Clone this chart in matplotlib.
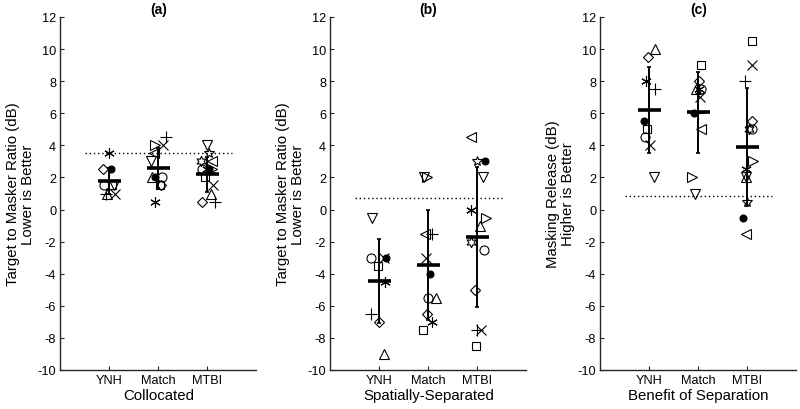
import numpy as np
import matplotlib
matplotlib.use("Agg")
import matplotlib.pyplot as plt

plt.rcParams["font.family"] = ["Liberation Sans", "DejaVu Sans"]
plt.rcParams["axes.unicode_minus"] = False

# --------------------------------------------------------------------------------------
# Data
# --------------------------------------------------------------------------------------
GROUPS = ["YNH", "Match", "MTBI"]
PANEL_TITLES = ["(a)", "(b)", "(c)"]
PANEL_XLABELS = ["Collocated", "Spatially-Separated", "Benefit of Separation"]
PANEL_YLABELS = ["Target to Masker Ratio (dB)\nLower is Better",
                 "Target to Masker Ratio (dB)\nLower is Better",
                 "Masking Release (dB)\nHigher is Better"]
REF_LINES = [3.5, 0.75, 0.85]

# one marker per listener, same listener keeps its marker in every panel
ynh_markers = ["*", "d", "of", "o", "s", "^", "x", "+", "v"]
ynh_coll = [3.5, 2.5, 2.5, 1.5, 1.5, 1.0, 1.0, 1.0, 1.5]
ynh_sep = [-4.5, -7.0, -3.0, -3.0, -3.5, -9.0, -3.0, -6.5, -0.5]
ynh_rel = [8.0, 9.5, 5.5, 4.5, 5.0, 10.0, 4.0, 7.5, 2.0]

match_markers = ["s", "d", "^", "*", "of", "x", "<", ">", "v", "+", "o"]
match_coll = [1.5, 1.5, 2.0, 0.5, 2.0, 4.0, 3.5, 4.0, 3.0, 4.5, 2.0]
match_sep = [-7.5, -6.5, -5.5, -7.0, -4.0, -3.0, -1.5, 2.0, 2.0, -1.5, -5.5]
match_rel = [9.0, 8.0, 7.5, 7.5, 6.0, 7.0, 5.0, 2.0, 1.0, 6.0, 7.5]

mtbi_markers = ["<", "p", "of", "v", "*", ">", "^", "h", "o", "d", "x", "+", "s"]
mtbi_coll = [3.0, 3.5, 2.5, 4.0, 2.5, 2.5, 1.0, 3.0, 2.5, 0.5, 1.5, 0.5, 2.0]
mtbi_sep = [4.5, 3.0, 3.0, 2.0, 0.0, -0.5, -1.0, -2.0, -2.5, -5.0, -7.5, -7.5, -8.5]
mtbi_rel = [-1.5, 0.5, -0.5, 2.0, 2.5, 3.0, 2.0, 5.0, 5.0, 5.5, 9.0, 8.0, 10.5]

# group means and SDs (panel x group)
means = [[1.8, 2.6, 2.2], [-4.45, -3.45, -1.7], [6.2, 6.05, 3.9]]
sds = [[0.8, 1.25, 1.1], [2.6, 3.45, 4.35], [2.7, 2.55, 3.7]]

# horizontal scatter of each point around its group
ynh_jit = [[0.0, -0.12, 0.03, -0.1, 0.05, -0.05, 0.12, -0.07, 0.1],
           [0.12, 0.0, 0.14, -0.16, -0.03, 0.09, 0.1, -0.17, -0.14],
           [-0.07, -0.02, -0.1, -0.09, -0.05, 0.12, 0.01, 0.12, 0.1]]
match_jit = [[0.03, 0.05, -0.12, -0.07, -0.07, 0.09, -0.09, -0.07, -0.14, 0.16, 0.07],
             [-0.1, -0.02, 0.15, 0.08, 0.03, -0.04, -0.06, -0.03, -0.08, 0.08, -0.01],
             [0.05, 0.02, -0.05, 0.02, -0.08, 0.03, 0.05, -0.12, -0.06, 0.0, 0.05]]
mtbi_jit = [[0.1, 0.03, 0.03, 0.0, 0.0, 0.1, 0.08, -0.12, -0.1, -0.11, 0.12, 0.16, -0.04],
            [-0.12, 0.0, 0.15, 0.12, -0.12, 0.17, 0.06, -0.12, 0.13, -0.05, 0.07, 0.0, -0.02],
            [-0.03, 0.0, -0.08, -0.03, -0.03, 0.12, -0.03, 0.03, 0.09, 0.1, 0.1, -0.05, 0.09]]

# --------------------------------------------------------------------------------------
# Marker styles (MATLAB-like)
# --------------------------------------------------------------------------------------
MARKER_STYLE = {
    "o": dict(marker="o", ms=6.5, mfc="none"),
    "of": dict(marker="o", ms=5, mfc="k"),
    "s": dict(marker="s", ms=6, mfc="none"),
    "d": dict(marker="D", ms=5.5, mfc="none"),
    "^": dict(marker="^", ms=7, mfc="none"),
    "v": dict(marker="v", ms=7, mfc="none"),
    "<": dict(marker="<", ms=7, mfc="none"),
    ">": dict(marker=">", ms=7, mfc="none"),
    "+": dict(marker="+", ms=8, mfc="none"),
    "x": dict(marker="x", ms=6.5, mfc="none"),
    "*": dict(marker=(6, 2, 0), ms=7.5, mfc="none"),
    "p": dict(marker="*", ms=7.5, mfc="none"),
    "h": dict(marker=(6, 1, 0), ms=7.5, mfc="none"),
}

groups_markers = [ynh_markers, match_markers, mtbi_markers]
groups_vals = [[ynh_coll, ynh_sep, ynh_rel],
               [match_coll, match_sep, match_rel],
               [mtbi_coll, mtbi_sep, mtbi_rel]]
groups_jit = [ynh_jit, match_jit, mtbi_jit]

AX_COLOR = "#262626"

fig = plt.figure(figsize=(8.0, 4.1), dpi=100)
lefts = [60.3 / 800, 330.3 / 800, 600.3 / 800]
for p in range(3):
    ax = fig.add_axes([lefts[p], 39.0 / 410, 196.0 / 800, 353.0 / 410])
    for g in range(3):
        xs = g + 1 + np.asarray(groups_jit[g][p])
        ys = groups_vals[g][p]
        for key, x, y in zip(groups_markers[g], xs, ys):
            ax.plot(x, y, ls="none", mec="k", mew=0.8, color="k", zorder=3,
                    **MARKER_STYLE[key])
    xg = np.arange(1, 4)
    ax.errorbar(xg, means[p], yerr=sds[p], fmt="none", ecolor="k", elinewidth=1.4,
                capsize=1.5, capthick=1.2, zorder=4)
    ax.hlines(means[p], xg - 0.23, xg + 0.23, colors="k", lw=2.6, zorder=5)
    ax.plot([0.5, 3.5], [REF_LINES[p]] * 2, color="k", ls=(0, (1, 2)), lw=1.0, zorder=2)

    ax.set_xlim(0, 4)
    ax.set_ylim(-10, 12)
    ax.set_yticks(np.arange(-10, 13, 2))
    ax.set_xticks(xg)
    ax.set_xticklabels(GROUPS)
    for s in ("top", "right"):
        ax.spines[s].set_visible(False)
    for s in ("left", "bottom"):
        ax.spines[s].set_color(AX_COLOR)
        ax.spines[s].set_linewidth(1.0)
    ax.tick_params(direction="in", length=3, width=0.8, color=AX_COLOR,
                   labelsize=9.2, labelcolor="k", pad=3)
    ax.set_xlabel(PANEL_XLABELS[p], fontsize=10.8, labelpad=1)
    ax.set_ylabel(PANEL_YLABELS[p], fontsize=10.8, labelpad=2, linespacing=1.1)
    ax.set_title(PANEL_TITLES[p], fontsize=10, fontweight="bold", pad=3)

fig.savefig("out.png", dpi=100)
